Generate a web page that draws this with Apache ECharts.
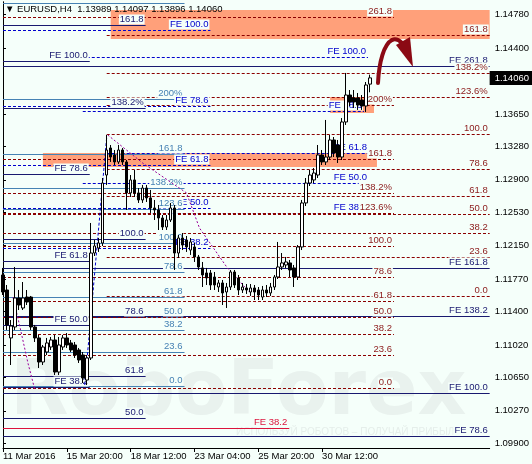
<!DOCTYPE html>
<html><head><meta charset="utf-8">
<script src="https://cdn.jsdelivr.net/npm/echarts@6/dist/echarts.min.js"></script>
<style>html,body{margin:0;padding:0;background:#f5fffa}#c{width:532px;height:464px}</style>
</head><body><div id="c"></div><script>
const symbolTitle = '\u25BC EURUSD,H4  1.13989 1.14097 1.13896 1.14060';
const barSlots = 123;
const xTickIndex = [0, 16, 32, 48, 64, 80];
const xTickLabels = ['11 Mar 2016', '15 Mar 20:00', '18 Mar 12:00', '23 Mar 04:00', '25 Mar 20:00', '30 Mar 12:00'];
const yTickValues = [1.09900, 1.10270, 1.10650, 1.11020, 1.11400, 1.11770, 1.12150, 1.12530, 1.12900, 1.13280, 1.13650, 1.14400, 1.14780];
const yTickLabels = ['1.09900', '1.10270', '1.10650', '1.11020', '1.11400', '1.11770', '1.12150', '1.12530', '1.12900', '1.13280', '1.13650', '1.14400', '1.14780'];
// [open, close, low, high]
const candles = [
[1.11816,1.11622,1.11588,1.11896],[1.11645,1.11247,1.11190,1.11702],[1.11099,1.11235,1.10791,1.11303],[1.11224,1.11554,1.11190,1.11907],
[1.11554,1.11474,1.11417,1.11645],[1.11440,1.11554,1.11417,1.11736],[1.11565,1.11508,1.11474,1.11645],[1.11565,1.11224,1.11190,1.11577],
[1.11224,1.11099,1.11053,1.11247],[1.11099,1.10825,1.10757,1.11133],[1.10825,1.10996,1.10791,1.11019],[1.10939,1.11042,1.10905,1.11099],
[1.10996,1.11076,1.10962,1.11110],[1.11076,1.10711,1.10677,1.11133],[1.10711,1.11019,1.10677,1.11110],[1.10996,1.11099,1.10962,1.11133],
[1.11099,1.11019,1.10985,1.11155],[1.11042,1.10962,1.10939,1.11076],[1.11019,1.10905,1.10871,1.11053],[1.10962,1.10848,1.10814,1.10985],
[1.10905,1.10643,1.10586,1.10939],[1.10620,1.10871,1.10563,1.10905],[1.10871,1.12066,1.10848,1.12408],[1.12066,1.12146,1.12032,1.12214],
[1.12123,1.12180,1.12078,1.12237],[1.12180,1.12863,1.12146,1.12920],[1.12954,1.13239,1.12841,1.13410],[1.13262,1.13159,1.13103,1.13296],
[1.13182,1.13103,1.13068,1.13239],[1.13103,1.13239,1.13080,1.13296],[1.13239,1.13103,1.13068,1.13262],[1.13103,1.12750,1.12556,1.13125],
[1.12750,1.12898,1.12704,1.12954],[1.12898,1.12750,1.12704,1.13011],[1.12750,1.12670,1.12636,1.12806],[1.12670,1.12806,1.12636,1.12841],
[1.12806,1.12693,1.12647,1.12841],[1.12693,1.12579,1.12522,1.12784],[1.12579,1.12556,1.12442,1.12670],[1.12556,1.12465,1.12328,1.12613],
[1.12465,1.12362,1.12328,1.12499],[1.12362,1.12442,1.12328,1.12499],[1.12442,1.12579,1.12419,1.12636],[1.12579,1.12066,1.11873,1.12613],
[1.12066,1.12237,1.12009,1.12271],[1.12237,1.12157,1.12100,1.12294],[1.12214,1.12135,1.12078,1.12260],[1.12100,1.12192,1.12044,1.12237],
[1.12135,1.12021,1.11964,1.12180],[1.12021,1.11907,1.11873,1.12044],[1.11896,1.11816,1.11679,1.11964],[1.11839,1.11782,1.11702,1.11896],
[1.11839,1.11702,1.11645,1.11873],[1.11793,1.11702,1.11645,1.11850],[1.11679,1.11725,1.11622,1.11759],[1.11725,1.11611,1.11474,1.11759],
[1.11622,1.11679,1.11440,1.11725],[1.11679,1.11850,1.11645,1.11873],[1.11850,1.11702,1.11668,1.11873],[1.11782,1.11645,1.11588,1.11816],
[1.11645,1.11679,1.11611,1.11725],[1.11668,1.11645,1.11600,1.11713],[1.11622,1.11668,1.11577,1.11713],[1.11668,1.11622,1.11531,1.11702],
[1.11645,1.11588,1.11531,1.11679],[1.11565,1.11645,1.11531,1.11691],[1.11645,1.11611,1.11565,1.11702],[1.11611,1.11679,1.11577,1.11725],
[1.11679,1.11793,1.11645,1.11816],[1.11793,1.11907,1.11770,1.12192],[1.11907,1.11953,1.11873,1.12066],[1.11930,1.11964,1.11896,1.12021],
[1.11953,1.11873,1.11793,1.11987],[1.11896,1.11793,1.11679,1.11930],[1.11793,1.12135,1.11759,1.12157],[1.12135,1.12636,1.12100,1.12670],
[1.12636,1.12863,1.12601,1.12920],[1.12863,1.12954,1.12829,1.13011],[1.12898,1.12977,1.12863,1.13034],[1.12954,1.13182,1.12920,1.13296],
[1.13182,1.13103,1.13068,1.13239],[1.13103,1.13159,1.13068,1.13581],[1.13159,1.13353,1.13125,1.13410],[1.13353,1.13205,1.13159,1.13387],
[1.13296,1.13159,1.13091,1.13353],[1.13159,1.13558,1.13125,1.13603],[1.13558,1.13865,1.13524,1.14116],[1.13865,1.13786,1.13740,1.13922],
[1.13831,1.13786,1.13717,1.13922],[1.13831,1.13751,1.13695,1.13888],[1.13808,1.13740,1.13695,1.13865],[1.13740,1.13979,1.13672,1.14013],
[1.13989,1.14060,1.13896,1.14097]
];
// [price, fromBar, toBar, kind, label]
const levels = [
[1.14913,0,45.5,'s','261.8'],[1.14753,0,98,'r','261.8'],[1.14662,0,35.75,'n','161.8'],[1.14605,0,52,'b','FE 100.0'],
[1.14549,26,122,'r','161.8'],[1.14298,21,91.5,'b','FE 100.0'],[1.14252,0,21.75,'n','FE 100.0'],[1.14190,0,122,'n','FE 261.8'],
[1.14116,26,122,'r','138.2%'],[1.13843,26,122,'r','123.6%'],[1.13820,0,45.5,'s','200%'],[1.13751,26,98,'r','200%'],
[1.13740,0,52,'b','FE 78.6'],[1.13717,0,35.75,'n','138.2%'],[1.13683,20,90.5,'b','FE 78.6'],[1.13421,26,122,'r','100.0'],
[1.13205,26,91.75,'b','FE 61.8'],[1.13194,0,45.5,'s','161.8'],[1.13137,0,98,'r','161.8'],[1.13068,0,52,'b','FE 61.8'],
[1.13023,26,122,'r','78.6'],[1.12966,0,21.75,'n','FE 78.6'],[1.12863,20,91.75,'b','FE 50.0'],[1.12806,0,45.5,'s','138.2%'],
[1.12750,0,98,'r','138.2%'],[1.12715,26,122,'r','61.8'],[1.12579,0,52,'b','FE 50.0'],[1.12567,0,45.5,'s','123.6'],
[1.12522,20,91.75,'b','FE 38.2'],[1.12522,0,98,'r','123.6%'],[1.12510,0,122,'r','50.0'],[1.12294,0,122,'r','38.2'],
[1.12226,0,35.75,'n','100.0'],[1.12180,0,45.5,'s','100.0'],[1.12146,0,98,'r','100.0'],[1.12123,0,52,'b','FE 38.2'],
[1.12021,26,122,'r','23.6'],[1.11975,0,21.75,'n','FE 61.8'],[1.11896,0,122,'n','FE 161.8'],[1.11850,0,45.5,'s','78.6'],
[1.11793,0,98,'r','78.6'],[1.11577,26,122,'r','0.0'],[1.11565,0,45.5,'s','61.8'],[1.11520,0,98,'r','61.8'],
[1.11349,0,122,'n','FE 138.2'],[1.11338,0,35.75,'n','78.6'],[1.11338,36,45.5,'s','50.0'],[1.11338,0,98,'r','50.0'],
[1.11247,0,21.75,'n','FE 50.0'],[1.11190,0,45.5,'s','38.2'],[1.11144,0,98,'r','38.2'],[1.10939,0,45.5,'s','23.6'],
[1.10905,0,98,'r','23.6'],[1.10666,0,35.75,'n','61.8'],[1.10552,0,45.5,'s','0.0'],[1.10541,0,21.75,'n','FE 38.2'],
[1.10529,0,98,'r','0.0'],[1.10472,0,122,'n','FE 100.0'],[1.10188,0,35.75,'n','50.0'],[1.10074,0,71.75,'c','FE 38.2'],
[1.09983,0,122,'n','FE 78.6']
];
// [fromBar, toBar, priceTop, priceBottom]
const zones = [[27,122,1.14833,1.14503],[10,93.75,1.13205,1.13046],[82,93,1.13843,1.13660]];
const purpleLineA = [[26.25,1.13410],[35,1.13091],[46,1.12750],[49.25,1.12351],[56.25,1.11896],[61.75,1.11622]];
const purpleLineB = [[2.5,1.11565],[4.25,1.11224],[6.25,1.10814],[8,1.10506]];
const blueLineA = [[20.5,1.10563],[26,1.13387]];

const BG = '#f5fffa';
const FONT = '9.5px "Liberation Sans", Arial, sans-serif';
const KIND = {
  r: {color:'#8b0000', dash:[3,2], text:'#8b1a1a'},
  n: {color:'#191970', dash:null, text:'#191970'},
  s: {color:'#4682b4', dash:null, text:'#4682b4'},
  b: {color:'#0000cd', dash:[3,2], text:'#0000cd'},
  c: {color:'#dc143c', dash:null, text:'#dc143c'}
};
const categories = [];
for (let i = 0; i < barSlots; i++) categories.push(String(i));

function renderLevel(params, api) {
  const lv = levels[params.dataIndex];
  const a = api.coord([lv[1], lv[0]]);
  const b = api.coord([lv[2], lv[0]]);
  const st = KIND[lv[3]];
  const y = Math.round(a[1]) + 0.5;
  const ls = {stroke:st.color, lineWidth:1};
  if (st.dash) ls.lineDash = st.dash;
  const ch = [{type:'line', shape:{x1:a[0], y1:y, x2:b[0], y2:y}, style:ls}];
  if (lv[4]) ch.push({type:'text', x:b[0] - 1, y:y - 1,
    style:{text:lv[4], fill:st.text, font:FONT, align:'right', verticalAlign:'bottom',
      backgroundColor:BG, padding:[0,1,0,1]}});
  return {type:'group', children:ch};
}
function renderZone(params, api) {
  const zn = zones[params.dataIndex];
  const a = api.coord([zn[0], zn[2]]);
  const b = api.coord([zn[1], zn[3]]);
  return {type:'rect', shape:{x:a[0], y:a[1], width:b[0]-a[0], height:b[1]-a[1]}, style:{fill:'#ffa07a'}};
}
function renderTag(params, api) {
  const cs = params.coordSys;
  const p = api.coord([api.value(0), api.value(1)]);
  const x = cs.x + cs.width;
  return {type:'group', children:[
    {type:'rect', shape:{x:x, y:Math.round(p[1]) - 7, width:532 - x, height:14}, style:{fill:'#000'}},
    {type:'text', x:x + 5, y:Math.round(p[1]), style:{text:api.value(1).toFixed(5), fill:'#fff', font:FONT, verticalAlign:'middle'}}
  ]};
}
const last = candles.length - 1;
const chart = echarts.init(document.getElementById('c'), null, {renderer:'canvas'});
chart.setOption({
  backgroundColor: BG,
  animation: false,
  grid: {left:3, right:41, top:2, bottom:16, show:false},
  xAxis: [{
    type:'category', data:categories, boundaryGap:false,
    axisLine:{show:true, lineStyle:{color:'#000', width:1}},
    axisTick:{show:true, length:4, lineStyle:{color:'#000'}, interval:(i) => xTickIndex.indexOf(i) >= 0},
    axisLabel:{interval:(i) => xTickIndex.indexOf(i) >= 0, align:'left', margin:3, color:'#000', fontSize:9.5,
      fontFamily:'"Liberation Sans", Arial, sans-serif',
      formatter:(v, i) => { const k = xTickIndex.indexOf(i); return k >= 0 ? xTickLabels[k] : ''; }},
    splitLine:{show:false}
  }, {
    type:'value', min:0, max:barSlots - 1, show:false
  }],
  yAxis: [{
    type:'value', position:'right', min:1.09846, max:1.14924, scale:true,
    axisLine:{show:true, lineStyle:{color:'#000', width:1}},
    axisTick:{show:true, length:3, inside:false, customValues:yTickValues, lineStyle:{color:'#000'}},
    axisLabel:{customValues:yTickValues, margin:5, color:'#000', fontSize:9.5,
      fontFamily:'"Liberation Sans", Arial, sans-serif',
      formatter:(v) => { const k = yTickValues.findIndex(t => Math.abs(t - v) < 1e-7); return k >= 0 ? yTickLabels[k] : v.toFixed(5); }},
    splitLine:{show:false}
  }, {
    type:'value', position:'left', min:1.09846, max:1.14924,
    axisLine:{show:true, lineStyle:{color:'#000', width:1}},
    axisTick:{show:false}, axisLabel:{show:false}, splitLine:{show:false}
  }],
  graphic: [
    {type:'text', left:10, top:356, z:0, silent:true,
      style:{text:'RoboForex', font:'bold 76px "DejaVu Sans"', fill:'#e9f2ee'}},
    {type:'text', left:236, top:427, z:0, silent:true,
      style:{text:'\u0418\u0421\u041f\u041e\u041b\u042c\u0417\u0423\u0419 \u0420\u041e\u0411\u041e\u0422\u041e\u0412 \u2013 \u041f\u041e\u041b\u0423\u0427\u0410\u0419 \u041f\u0420\u0418\u0411\u042b\u041b\u042c', font:'10px "Liberation Sans"', fill:'#e5eeea'}},
    {type:'text', left:5, top:4, z:100, silent:true,
      style:{text:symbolTitle, font:FONT, fill:'#000'}},
    {type:'bezierCurve', z:100, silent:true,
      shape:{x1:378, y1:83, cpx1:379, cpy1:62, cpx2:384, cpy2:44, x2:392, y2:40},
      style:{stroke:'#8b0a14', lineWidth:4, fill:null, lineCap:'round'}},
    {type:'bezierCurve', z:100, silent:true,
      shape:{x1:392, y1:40, cpx1:396, cpy1:38, cpx2:399, cpy2:40, x2:402, y2:43},
      style:{stroke:'#8b0a14', lineWidth:4, fill:null, lineCap:'round'}},
    {type:'polygon', z:100, silent:true,
      shape:{points:[[396,45],[410,37],[413,67]]}, style:{fill:'#8b0a14'}}
  ],
  series: [
    {type:'custom', xAxisIndex:1, yAxisIndex:0, z:1, silent:true, renderItem:renderZone,
      data:zones.map(z => [z[0], z[1], z[2], z[3]]), encode:{x:[0,1], y:[2,3]}},
    {type:'custom', xAxisIndex:1, yAxisIndex:0, z:2, silent:true, renderItem:renderLevel,
      data:levels.map(l => [l[1], l[2], l[0]]), encode:{x:[0,1], y:2}},
    {type:'line', xAxisIndex:1, yAxisIndex:0, z:3, silent:true, showSymbol:false, data:purpleLineA,
      lineStyle:{color:'#990099', width:1, type:[2,2]}},
    {type:'line', xAxisIndex:1, yAxisIndex:0, z:3, silent:true, showSymbol:false, data:purpleLineB,
      lineStyle:{color:'#990099', width:1, type:[2,2]}},
    {type:'line', xAxisIndex:1, yAxisIndex:0, z:3, silent:true, showSymbol:false, data:blueLineA,
      lineStyle:{color:'#0000cd', width:1, type:[3,2]}},
    {type:'candlestick', xAxisIndex:0, yAxisIndex:0, z:5, silent:true, barWidth:3, data:candles,
      itemStyle:{color:'#ffffff', color0:'#000000', borderColor:'#000000', borderColor0:'#000000', borderWidth:1}},
    {type:'custom', xAxisIndex:0, yAxisIndex:0, z:10, silent:true, clip:false, renderItem:renderTag,
      data:[[last, candles[last][1]]], encode:{x:0, y:1}}
  ]
});
</script></body></html>
